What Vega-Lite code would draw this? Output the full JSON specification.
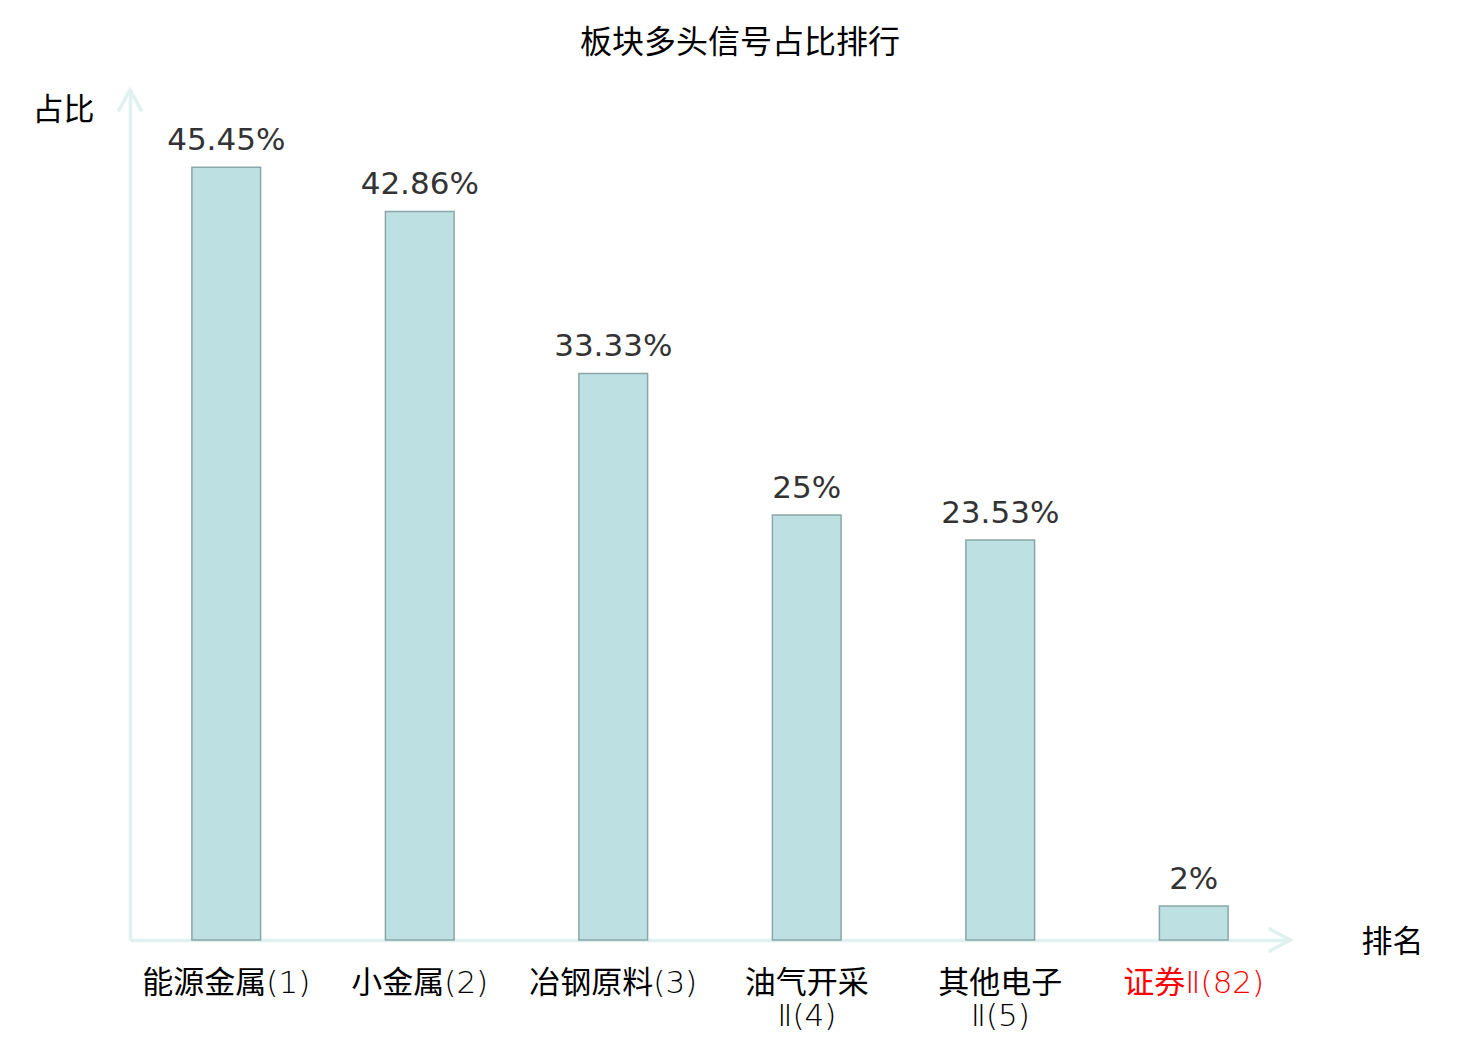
{
  "$schema": "https://vega.github.io/schema/vega-lite/v6.json",
  "autosize": {"type": "none"},
  "padding": {"left": 130, "top": 90, "right": 190, "bottom": 100},
  "width": 1160,
  "height": 850,
  "background": "white",
  "config": {
    "view": {"stroke": null},
    "font": "DejaVu Sans, Noto Sans CJK SC"
  },
  "title": {
    "text": "板块多头信号占比排行",
    "fontSize": 32,
    "fontWeight": "normal",
    "color": "#000000",
    "font": "DejaVu Sans, Noto Sans CJK SC",
    "anchor": "middle",
    "dx": 30,
    "offset": 23
  },
  "data": {
    "values": [
      {"sector": "能源金属(1)", "pct": 45.45, "text": "45.45%"},
      {"sector": "小金属(2)", "pct": 42.86, "text": "42.86%"},
      {"sector": "冶钢原料(3)", "pct": 33.33, "text": "33.33%"},
      {"sector": "油气开采Ⅱ(4)", "pct": 25, "text": "25%"},
      {"sector": "其他电子Ⅱ(5)", "pct": 23.53, "text": "23.53%"},
      {"sector": "证券Ⅱ(82)", "pct": 2, "text": "2%"}
    ]
  },
  "encoding": {
    "x": {
      "field": "sector",
      "type": "nominal",
      "sort": null,
      "scale": {"paddingInner": 0.645, "paddingOuter": 0.32},
      "axis": {
        "title": "排名",
        "titleFontSize": 31,
        "titleFontWeight": "normal",
        "titleColor": "#000000",
        "titleFont": "Noto Sans CJK SC",
        "titleAngle": 0,
        "titleAlign": "center",
        "titleBaseline": "middle",
        "titleX": 1262,
        "titleY": 2,
        "domainColor": "#dff2f0",
        "domainWidth": 3.5,
        "ticks": false,
        "labelAngle": 0,
        "labelFont": "DejaVu Sans Light, Noto Sans CJK SC",
        "labelFontWeight": "normal",
        "labelFontSize": 31,
        "labelPadding": 28,
        "labelLineHeight": 33,
        "labelBaseline": "top",
        "labelColor": {"expr": "datum.value == '证券Ⅱ(82)' ? '#ff0000' : '#000000'"},
        "labelExpr": "length(datum.label) >= 8 ? [slice(datum.label, 0, 4), slice(datum.label, 4)] : datum.label"
      }
    },
    "y": {
      "field": "pct",
      "type": "quantitative",
      "scale": {"domain": [0, 50], "nice": false},
      "axis": {
        "title": "占比",
        "titleFontSize": 31,
        "titleFontWeight": "normal",
        "titleColor": "#000000",
        "titleFont": "Noto Sans CJK SC",
        "titleAngle": 0,
        "titleAlign": "center",
        "titleBaseline": "middle",
        "titleX": -67,
        "titleY": 20,
        "domainColor": "#dff2f0",
        "domainWidth": 3.5,
        "ticks": false,
        "labels": false,
        "grid": false
      }
    }
  },
  "layer": [
    {
      "mark": {"type": "bar", "fill": "#bde0e3", "stroke": "#8aa6a8", "strokeWidth": 1.5}
    },
    {
      "mark": {"type": "text", "baseline": "bottom", "dy": -10, "fontSize": 31, "color": "#333333"},
      "encoding": {"text": {"field": "text"}}
    },
    {
      "data": {"values": [{"v": 50}]},
      "mark": {
        "type": "point",
        "shape": "M-1,1.8 L0,0 L1,1.8",
        "filled": false,
        "stroke": "#dff2f0",
        "strokeWidth": 3.5,
        "size": 560,
        "opacity": 1
      },
      "encoding": {"x": {"value": 0}, "y": {"field": "v", "type": "quantitative"}}
    },
    {
      "data": {"values": [{"v": 0}]},
      "mark": {
        "type": "point",
        "shape": "M-1.8,-1 L0,0 L-1.8,1",
        "filled": false,
        "stroke": "#dff2f0",
        "strokeWidth": 3.5,
        "size": 560,
        "opacity": 1
      },
      "encoding": {"x": {"value": "width"}, "y": {"field": "v", "type": "quantitative"}}
    }
  ]
}
